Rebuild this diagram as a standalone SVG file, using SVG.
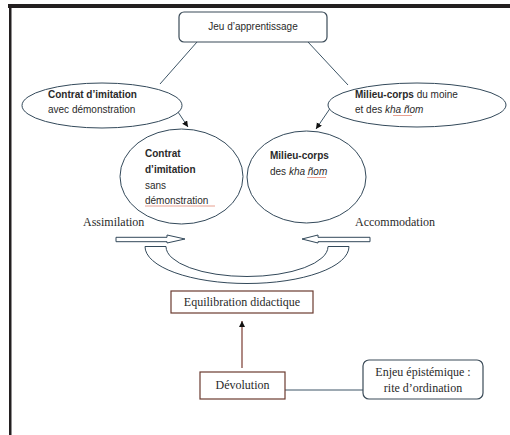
<svg xmlns="http://www.w3.org/2000/svg" width="510" height="435" viewBox="0 0 510 435">
<style>
.frame{fill:#231f20}
.ell{fill:#fff;stroke:#33495a;stroke-width:1}
.conn{fill:none;stroke:#3d5566;stroke-width:1}
.sans{font-family:"Liberation Sans","Noto Sans",Arial,sans-serif;font-size:10px;fill:#2a2a2a}
.b{font-weight:bold}
.it{font-style:italic}
.serif{font-family:"Liberation Serif","Times New Roman",serif;font-size:12px;fill:#2a2a2a}
.box{fill:#fff;stroke:#6b3b30;stroke-width:1.2}
.rbox{fill:#fff;stroke:#3b4b58;stroke-width:1.2}
.hollow{fill:#fff;stroke:#33495a;stroke-width:1}
.spell{fill:none;stroke:#e8a090;stroke-width:1}
</style>
<defs>
<marker id="ah" markerWidth="8" markerHeight="8" refX="6" refY="3" orient="auto" markerUnits="userSpaceOnUse">
<path d="M0,0 L6,3 L0,6 Z" fill="#111"/>
</marker>
</defs>
<rect class="frame" x="8" y="4" width="502" height="4"/>
<rect class="frame" x="9" y="4" width="2.5" height="431"/>

<g id="connectors">
<line class="conn" x1="197" y1="42" x2="160" y2="84"/>
<line class="conn" x1="308" y1="42" x2="348" y2="85"/>
<line class="conn" x1="174" y1="106" x2="188" y2="127" marker-end="url(#ah)"/>
<line class="conn" x1="331" y1="107" x2="316" y2="129" marker-end="url(#ah)"/>
<line x1="242" y1="368" x2="242" y2="321" stroke="#7a3a30" stroke-width="1.2" marker-end="url(#ah)"/>
<line class="conn" x1="285" y1="390" x2="363" y2="390" stroke-width="1.2"/>
<path class="hollow" d="M116,237.3 H167 V235 L185,239 L167,243 V241.7 H116 Z"/>
<path class="hollow" d="M370,237.3 H318 V235 L302,239 L318,243 V241.7 H370 Z"/>
<path class="hollow" d="M145,246.5 A102,37 0 0 0 349,246.5 H328 A81,30 0 0 1 166,246.5 Z"/>
</g>

<g id="jeu">
<rect class="rbox" x="179" y="12" width="148" height="30" rx="5"/>
<text class="sans" x="253" y="30" text-anchor="middle">Jeu d’apprentissage</text>
</g>

<g id="contrat-avec">
<ellipse class="ell" cx="102" cy="105.5" rx="80" ry="22.5"/>
<text class="sans b" x="48" y="98">Contrat d’imitation</text>
<text class="sans" x="48" y="113">avec démonstration</text>
</g>

<g id="milieu-moine">
<ellipse class="ell" cx="417" cy="105" rx="89" ry="22"/>
<text class="sans" x="355" y="98"><tspan class="b">Milieu-corps</tspan> du moine</text>
<text class="sans" x="355" y="113">et des <tspan class="it">kha ñom</tspan></text>
<line class="spell" x1="393" y1="115.5" x2="412" y2="115.5"/>
</g>

<g id="contrat-sans">
<ellipse class="ell" cx="181.5" cy="176.5" rx="61.5" ry="47.5"/>
<text class="sans b" x="145" y="157">Contrat</text>
<text class="sans b" x="145" y="173">d’imitation</text>
<text class="sans" x="145" y="189">sans</text>
<line class="spell" x1="145" y1="206" x2="215" y2="206"/>
<text class="sans" x="145" y="204">démonstration</text>
</g>

<g id="milieu-kha">
<ellipse class="ell" cx="306.5" cy="177" rx="59.5" ry="46"/>
<text class="sans b" x="270" y="159">Milieu-corps</text>
<text class="sans" x="270" y="175">des <tspan class="it">kha ñom</tspan></text>
<line class="spell" x1="307" y1="177.5" x2="326" y2="177.5"/>
</g>

<g id="assimilation">
<text class="serif" x="83" y="226">Assimilation</text>
</g>
<g id="accommodation">
<text class="serif" x="355" y="226">Accommodation</text>
</g>

<g id="equilibration">
<rect class="box" x="171" y="291" width="142" height="22"/>
<text class="serif" x="242" y="306" text-anchor="middle" font-size="11.5">Equilibration didactique</text>
</g>

<g id="devolution">
<rect class="box" x="200" y="372" width="85" height="27"/>
<text class="serif" x="242.5" y="389" text-anchor="middle" font-size="11.5">Dévolution</text>
</g>

<g id="enjeu">
<rect class="rbox" x="363" y="360" width="120" height="39" rx="6"/>
<text class="serif" x="423" y="376" text-anchor="middle" font-size="11">Enjeu épistémique :</text>
<text class="serif" x="423" y="392" text-anchor="middle" font-size="11">rite d’ordination</text>
</g>
</svg>
